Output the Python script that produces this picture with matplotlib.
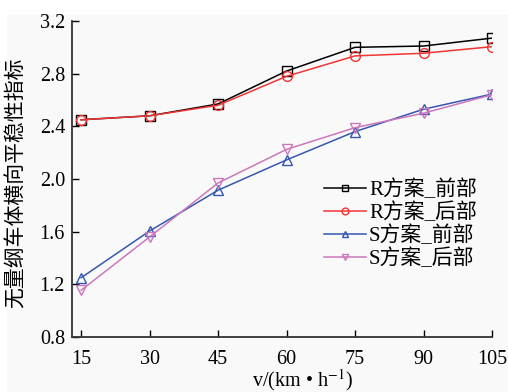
import numpy as np
import matplotlib.pyplot as plt
from matplotlib.patches import Rectangle

plt.rcParams['font.family'] = ['Liberation Serif', 'Noto Sans CJK SC']
plt.rcParams['mathtext.fontset'] = 'stix'

# speeds and stability indices
speed = [15, 30, 45, 60, 75, 90, 105]
r_front = [2.45, 2.48, 2.57, 2.82, 3.00, 3.01, 3.07]
r_rear = [2.45, 2.48, 2.56, 2.78, 2.935, 2.955, 3.005]
s_front = [1.25, 1.605, 1.915, 2.145, 2.36, 2.53, 2.645]
s_rear = [1.155, 1.56, 1.97, 2.225, 2.39, 2.50, 2.64]

labels = ['R方案_前部', 'R方案_后部', 'S方案_前部', 'S方案_后部']
colors = ['black', '#f03535', '#3557b0', '#cc77bb']
markers = ['s', 'o', '^', 'v']

fig = plt.figure(figsize=(5.08, 3.92), dpi=100)
fig.patch.set_facecolor('white')
fig.patches.append(Rectangle((7 / 508, 0), 1, (392 - 14) / 392,
                             transform=fig.transFigure, facecolor='#f9f9f9',
                             edgecolor='none', zorder=-10))
ax = fig.add_axes([72 / 508, 55 / 392, 420 / 508, 316 / 392])
ax.set_facecolor('none')

for y, lab, c, m in zip([r_front, r_rear, s_front, s_rear], labels, colors, markers):
    ax.plot(speed, y, color=c, marker=m, markersize=7, markerfacecolor='none',
            markeredgecolor=c, markeredgewidth=1.0, linewidth=1.1, label=lab)

ax.set_xlim(13.0, 105)
ax.set_ylim(0.8, 3.2)
ax.set_xticks(speed)
ax.set_yticks(np.arange(0.8, 3.21, 0.4))
ax.set_yticklabels(['%.1f' % v for v in np.arange(0.8, 3.21, 0.4)])
ax.tick_params(direction='in', length=5, width=1.0, labelsize=14.5)
ax.tick_params(axis='x', pad=9)
ax.tick_params(axis='y', pad=5)
ax.spines['top'].set_visible(False)
ax.spines['right'].set_visible(False)
for s in ['left', 'bottom']:
    ax.spines[s].set_linewidth(1.3)
    ax.spines[s].set_color('#333333')

ax.set_xlabel('v/(km • h$^{-1}$)', fontsize=14.5, labelpad=0)
ax.xaxis.set_label_coords(0.548, -0.095)
ax.set_ylabel('无量纲车体横向平稳性指标', fontsize=15)
ax.yaxis.set_label_coords(-0.107, 0.487)

ax.legend(loc='upper left', bbox_to_anchor=(0.566, 0.545), frameon=False,
          fontsize=15, handlelength=2.0, handletextpad=0.15, labelspacing=0.12,
          markerscale=0.7, borderpad=0.2)

fig.savefig('out.png', dpi=100)
